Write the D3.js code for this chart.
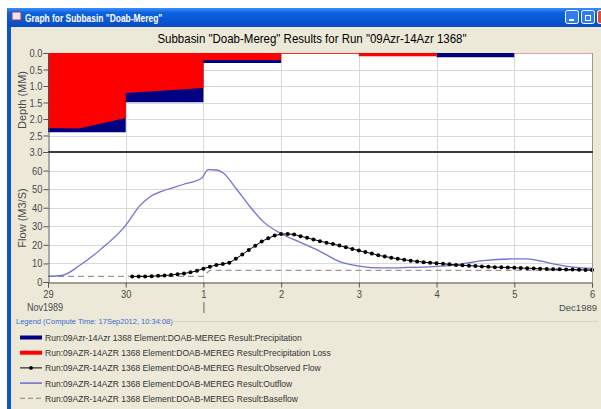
<!DOCTYPE html>
<html lang="en">

<head>
    <meta charset="UTF-8">
    <title>Graph for Subbasin "Doab-Mereg"</title>
    <style>
        body { margin: 0; background: #ffffff; }
        svg text { font-family: Arial, "Liberation Sans", sans-serif; }
    </style>
</head>

<body>
    <!-- Create a div where the graph will take place -->
    <div id="my_dataviz"></div>
    <!-- Load d3.js -->
    <script src="https://d3js.org/d3.v7.min.js"></script>
    <script>

        // time axis labels, one per day from 29 Nov 1989
        var dayLabels = ["29", "30", "1", "2", "3", "4", "5", "6"]
        var depthTicks = [0, 0.5, 1.0, 1.5, 2.0, 2.5, 3.0]
        var flowTicks = [0, 10, 20, 30, 40, 50, 60]

        // precipitation (MM) per day interval, starting 29 Nov
        var precip = [2.40, 1.49, 0.30, 0.00, 0.03, 0.13, 0.00]

        // precipitation loss (MM), time in days from 29 Nov 00:00
        var lossT = [0, 0.4, 1, 1, 2, 2, 3, 3, 4, 4, 5, 5, 7]
        var lossV = [2.27, 2.29, 1.97, 1.21, 1.06, 0.21, 0.21, 0.025, 0.025, 0.10, 0.10, 0, 0]

        // simulated outflow (M3/S)
        var outflowT = [0, 0.18, 0.41, 0.67, 1.0, 1.18, 1.31, 1.53, 1.74, 1.98, 2.06, 2.17, 2.25, 2.43, 2.6, 2.77, 3.0,
            3.24, 3.5, 3.76, 4.0, 4.31, 4.6, 4.96, 5.2, 5.39, 5.6, 5.98, 6.16, 6.35, 6.5, 6.76, 7.0]
        var outflowV = [3.0, 3.5, 9.0, 17.3, 30.5, 41.0, 45.8, 49.8, 52.5, 56.0, 60.5, 60.3, 58.8, 49.8, 40.5, 32.5, 26.0,
            21.5, 16.5, 10.8, 8.6, 7.6, 7.8, 8.3, 9.0, 10.2, 11.5, 12.4, 12.4, 11.2, 9.8, 8.0, 7.3]

        // observed flow (M3/S), every 2 hours from 30 Nov 02:00 to 6 Dec 00:00
        var observedV = [3.0, 3.0, 3.0, 3.1, 3.3, 3.5, 3.8, 4.2, 4.6, 5.2, 6.0, 7.2,
            8.2, 9.2, 9.7, 10.4, 12.5, 14.8, 17.2, 19.5, 21.8, 23.6, 25.0, 25.8,
            25.9, 25.6, 24.7, 23.8, 22.9, 22.0, 21.2, 20.4, 19.6, 18.7, 17.8, 16.9,
            16.1, 15.3, 14.4, 13.7, 13.1, 12.5, 12.0, 11.5, 11.1, 10.7, 10.4, 10.1,
            9.8, 9.5, 9.2, 9.0, 8.8, 8.6, 8.4, 8.2, 8.0, 7.9, 7.8, 7.7,
            7.5, 7.4, 7.3, 7.1, 7.0, 6.9, 6.8, 6.7, 6.7, 6.6, 6.5, 6.4]

        // baseflow (M3/S)
        var baseT = [0, 2.0, 2.08, 7]
        var baseV = [3.0, 3.0, 6.3, 6.3]

        var legendItems = [
            { label: "Run:09Azr-14Azr 1368 Element:DOAB-MEREG Result:Precipitation", kind: "precip" },
            { label: "Run:09AZR-14AZR 1368 Element:DOAB-MEREG Result:Precipitation Loss", kind: "loss" },
            { label: "Run:09AZR-14AZR 1368 Element:DOAB-MEREG Result:Observed Flow", kind: "observed" },
            { label: "Run:09AZR-14AZR 1368 Element:DOAB-MEREG Result:Outflow", kind: "outflow" },
            { label: "Run:09AZR-14AZR 1368 Element:DOAB-MEREG Result:Baseflow", kind: "base" }
        ]

        var W = 601, H = 409
        var plotL = 48, plotR = 592
        var depthTop = 53, depthBot = 152, flowBot = 282

        var cPrecip = "#000080", cLoss = "#ff0000", cOut = "#7272d4", cBase = "#a09494"

        // the screenshot is a bit narrow: squeeze text horizontally
        function squeeze(sel, k) {
            sel.each(function () {
                var w = this.getComputedTextLength()
                d3.select(this).attr("textLength", w * k).attr("lengthAdjust", "spacingAndGlyphs")
            })
        }

        var svg = d3.select("#my_dataviz")
            .append("svg")
            .attr("width", W)
            .attr("height", H)

        // window frame
        var defs = svg.append("defs")
        var grad = defs.append("linearGradient").attr("id", "tbar").attr("x1", 0).attr("y1", 0).attr("x2", 0).attr("y2", 1)
        grad.append("stop").attr("offset", "0%").attr("stop-color", "#3d8ff7")
        grad.append("stop").attr("offset", "25%").attr("stop-color", "#0b62e0")
        grad.append("stop").attr("offset", "100%").attr("stop-color", "#0a4cc4")

        svg.append("rect").attr("x", 7).attr("y", 8).attr("width", W - 7).attr("height", H - 8).attr("fill", "#0a55d0")
        svg.append("rect").attr("x", 7).attr("y", 8).attr("width", W - 7).attr("height", 19).attr("fill", "url(#tbar)")
        svg.append("rect").attr("x", 11).attr("y", 27).attr("width", W - 11).attr("height", H - 27).attr("fill", "#ece9d8")

        // title bar icon and text
        svg.append("rect").attr("x", 12).attr("y", 12).attr("width", 9).attr("height", 8).attr("fill", "#dfe8f6").attr("stroke", "#c03030").attr("stroke-width", 1)
        svg.append("text").attr("x", 25).attr("y", 21.5).text("Graph for Subbasin \"Doab-Mereg\"")
            .style("font-size", "10.5px").style("font-weight", "bold").attr("fill", "#ffffff")
            .call(squeeze, 0.8)

        // minimize / restore / close buttons
        svg.append("rect").attr("x", 565.5).attr("y", 10.5).attr("width", 13).attr("height", 13).attr("rx", 2)
            .attr("fill", "#2f7cf0").attr("stroke", "#ffffff")
        svg.append("rect").attr("x", 569).attr("y", 19).attr("width", 5).attr("height", 2).attr("fill", "#ffffff")
        svg.append("rect").attr("x", 581.5).attr("y", 10.5).attr("width", 13).attr("height", 13).attr("rx", 2)
            .attr("fill", "#2f7cf0").attr("stroke", "#ffffff")
        svg.append("rect").attr("x", 585.5).attr("y", 15.5).attr("width", 5).attr("height", 5).attr("fill", "none").attr("stroke", "#ffffff")
        svg.append("rect").attr("x", 597.5).attr("y", 10.5).attr("width", 13).attr("height", 13).attr("rx", 2)
            .attr("fill", "#e0502c").attr("stroke", "#ffffff")

        // chart title
        svg.append("text").attr("x", 312).attr("y", 43).attr("text-anchor", "middle")
            .text("Subbasin \"Doab-Mereg\" Results for Run \"09Azr-14Azr 1368\"")
            .style("font-size", "13.5px").attr("fill", "#000")
            .call(squeeze, 0.85)

        // scales
        var x = d3.scaleLinear().domain([0, 7]).range([plotL, plotR])
        var yDepth = d3.scaleLinear().domain([0, 3]).range([depthTop, depthBot])
        var yFlow = d3.scaleLinear().domain([0, 70]).range([flowBot, depthBot])

        // plot background
        svg.append("rect").attr("x", plotL).attr("y", depthTop).attr("width", plotR - plotL).attr("height", flowBot - depthTop).attr("fill", "#ffffff")

        // grid lines
        var grid = svg.append("g").attr("stroke", "#d9d9d9").attr("stroke-width", 1)
        grid.selectAll(".vg").data(d3.range(1, 7)).enter().append("line")
            .attr("x1", function (d) { return Math.round(x(d)) + 0.5 }).attr("x2", function (d) { return Math.round(x(d)) + 0.5 })
            .attr("y1", depthTop).attr("y2", flowBot)
        grid.selectAll(".hd").data(depthTicks.slice(1, 6)).enter().append("line")
            .attr("x1", plotL).attr("x2", plotR)
            .attr("y1", function (d) { return Math.round(yDepth(d)) + 0.5 }).attr("y2", function (d) { return Math.round(yDepth(d)) + 0.5 })
        grid.selectAll(".hf").data(flowTicks.slice(1)).enter().append("line")
            .attr("x1", plotL).attr("x2", plotR)
            .attr("y1", function (d) { return Math.round(yFlow(d)) + 0.5 }).attr("y2", function (d) { return Math.round(yFlow(d)) + 0.5 })

        // frame (top edge, under the bars)
        svg.append("line").attr("x1", plotL).attr("x2", plotR).attr("y1", depthTop + 0.5).attr("y2", depthTop + 0.5)
            .attr("stroke", "#e8a0a0").attr("stroke-width", 1)

        // precipitation (step) and loss on top of it
        var precipPts = precip.map(function (v, i) { return [i, v] })
        precipPts.push([7, precip[precip.length - 1]])
        svg.append("path")
            .datum(precipPts)
            .attr("fill", cPrecip)
            .attr("d", d3.area().curve(d3.curveStepAfter)
                .x(function (d) { return x(d[0]) })
                .y0(yDepth(0))
                .y1(function (d) { return yDepth(d[1]) }))

        var lossPts = lossT.map(function (t, i) { return [t, lossV[i]] })
        svg.append("path")
            .datum(lossPts)
            .attr("fill", cLoss)
            .attr("d", d3.area()
                .x(function (d) { return x(d[0]) })
                .y0(yDepth(0))
                .y1(function (d) { return yDepth(d[1]) }))

        // flow series
        var flowLine = d3.line()
            .x(function (d) { return x(d[0]) })
            .y(function (d) { return yFlow(d[1]) })

        svg.append("path")
            .datum(baseT.map(function (t, i) { return [t, baseV[i]] }))
            .attr("fill", "none").attr("stroke", cBase).attr("stroke-width", 1.3).attr("stroke-dasharray", "6,4")
            .attr("d", flowLine)

        svg.append("path")
            .datum(outflowT.map(function (t, i) { return [t, outflowV[i]] }))
            .attr("fill", "none").attr("stroke", cOut).attr("stroke-width", 1.3)
            .attr("d", flowLine.curve(d3.curveMonotoneX))

        var obsPts = observedV.map(function (v, i) { return [1 + (i + 1) / 12, v] })
        svg.append("path")
            .datum(obsPts)
            .attr("fill", "none").attr("stroke", "#000").attr("stroke-width", 1)
            .attr("d", d3.line().x(function (d) { return x(d[0]) }).y(function (d) { return yFlow(d[1]) }))
        svg.selectAll(".obs").data(obsPts).enter().append("circle")
            .attr("cx", function (d) { return x(d[0]) })
            .attr("cy", function (d) { return yFlow(d[1]) })
            .attr("r", 2).attr("fill", "#000")

        // right edge and panel separator
        svg.append("line").attr("x1", plotR + 0.5).attr("x2", plotR + 0.5).attr("y1", depthTop).attr("y2", flowBot)
            .attr("stroke", "#9a9a9a")
        svg.append("line").attr("x1", plotL).attr("x2", plotR + 1).attr("y1", depthBot).attr("y2", depthBot)
            .attr("stroke", "#3a3a3a").attr("stroke-width", 2)

        // axes
        var axisDepth = svg.append("g").attr("transform", "translate(" + (plotL + 0.5) + ",0)")
            .call(d3.axisLeft(yDepth).tickValues(depthTicks).tickFormat(d3.format(".1f")).tickSize(5))
        var axisFlow = svg.append("g").attr("transform", "translate(" + (plotL + 0.5) + ",0)")
            .call(d3.axisLeft(yFlow).tickValues(flowTicks).tickSize(5))
        var axisX = svg.append("g").attr("transform", "translate(0," + (flowBot + 0.5) + ")")
            .call(d3.axisBottom(x).tickValues(d3.range(0, 8)).tickFormat(function (d) { return dayLabels[d] }).tickSize(5))

        ;[axisDepth, axisFlow, axisX].forEach(function (a) {
            a.select(".domain").attr("stroke", "#555")
            a.selectAll(".tick line").attr("stroke", "#555")
            a.selectAll(".tick text").attr("fill", "#4a4a4a").style("font-size", "11px").style("font-family", "Arial, 'Liberation Sans', sans-serif")
        })
        axisDepth.selectAll(".tick text").attr("x", -6).call(squeeze, 0.85)
        axisFlow.selectAll(".tick text").attr("x", -6).call(squeeze, 0.85)
        axisX.selectAll(".tick text").attr("y", 8).call(squeeze, 0.85)

        // axis titles
        svg.append("text").attr("transform", "translate(26,100) rotate(-90)").attr("text-anchor", "middle")
            .text("Depth (MM)").style("font-size", "11px").attr("fill", "#4a4a4a")
        svg.append("text").attr("transform", "translate(26,218) rotate(-90)").attr("text-anchor", "middle")
            .text("Flow (M3/S)").style("font-size", "11px").attr("fill", "#4a4a4a")

        // month labels
        svg.append("text").attr("x", 27).attr("y", 311).text("Nov1989").style("font-size", "11px").attr("fill", "#4a4a4a")
            .call(squeeze, 0.82)
        svg.append("text").attr("x", 597).attr("y", 311).attr("text-anchor", "end").text("Dec1989")
            .style("font-size", "9.5px").attr("fill", "#4a4a4a")
        svg.append("line").attr("x1", x(2) + 0.5).attr("x2", x(2) + 0.5).attr("y1", 302).attr("y2", 313).attr("stroke", "#666")

        // legend
        svg.append("text").attr("x", 16).attr("y", 324).text("Legend (Compute Time: 17Sep2012, 10:34:08)")
            .style("font-size", "7.5px").attr("fill", "#3a6ad0")
        svg.append("line").attr("x1", 170).attr("x2", 598).attr("y1", 321.5).attr("y2", 321.5).attr("stroke", "#d8d5c4")

        var leg = svg.selectAll(".leg").data(legendItems).enter().append("g")
            .attr("transform", function (d, i) { return "translate(0," + (337.5 + i * 15.2) + ")" })
        leg.each(function (d) {
            var g = d3.select(this)
            if (d.kind == "precip" || d.kind == "loss") {
                g.append("line").attr("x1", 20).attr("x2", 42).attr("y1", 0).attr("y2", 0)
                    .attr("stroke", d.kind == "precip" ? cPrecip : cLoss).attr("stroke-width", 4)
            } else if (d.kind == "observed") {
                g.append("line").attr("x1", 20).attr("x2", 42).attr("y1", 0).attr("y2", 0).attr("stroke", "#000")
                g.append("circle").attr("cx", 31).attr("cy", 0).attr("r", 1.9).attr("fill", "#000")
            } else if (d.kind == "outflow") {
                g.append("line").attr("x1", 20).attr("x2", 42).attr("y1", 0).attr("y2", 0).attr("stroke", cOut).attr("stroke-width", 1.6)
            } else {
                g.append("line").attr("x1", 20).attr("x2", 42).attr("y1", 0).attr("y2", 0).attr("stroke", cBase)
                    .attr("stroke-width", 1.2).attr("stroke-dasharray", "5,3")
            }
            g.append("text").attr("x", 45).attr("y", 3.5).text(d.label).style("font-size", "9.8px").attr("fill", "#333")
                .call(squeeze, 0.87)
        })

    </script>
</body>

</html>
